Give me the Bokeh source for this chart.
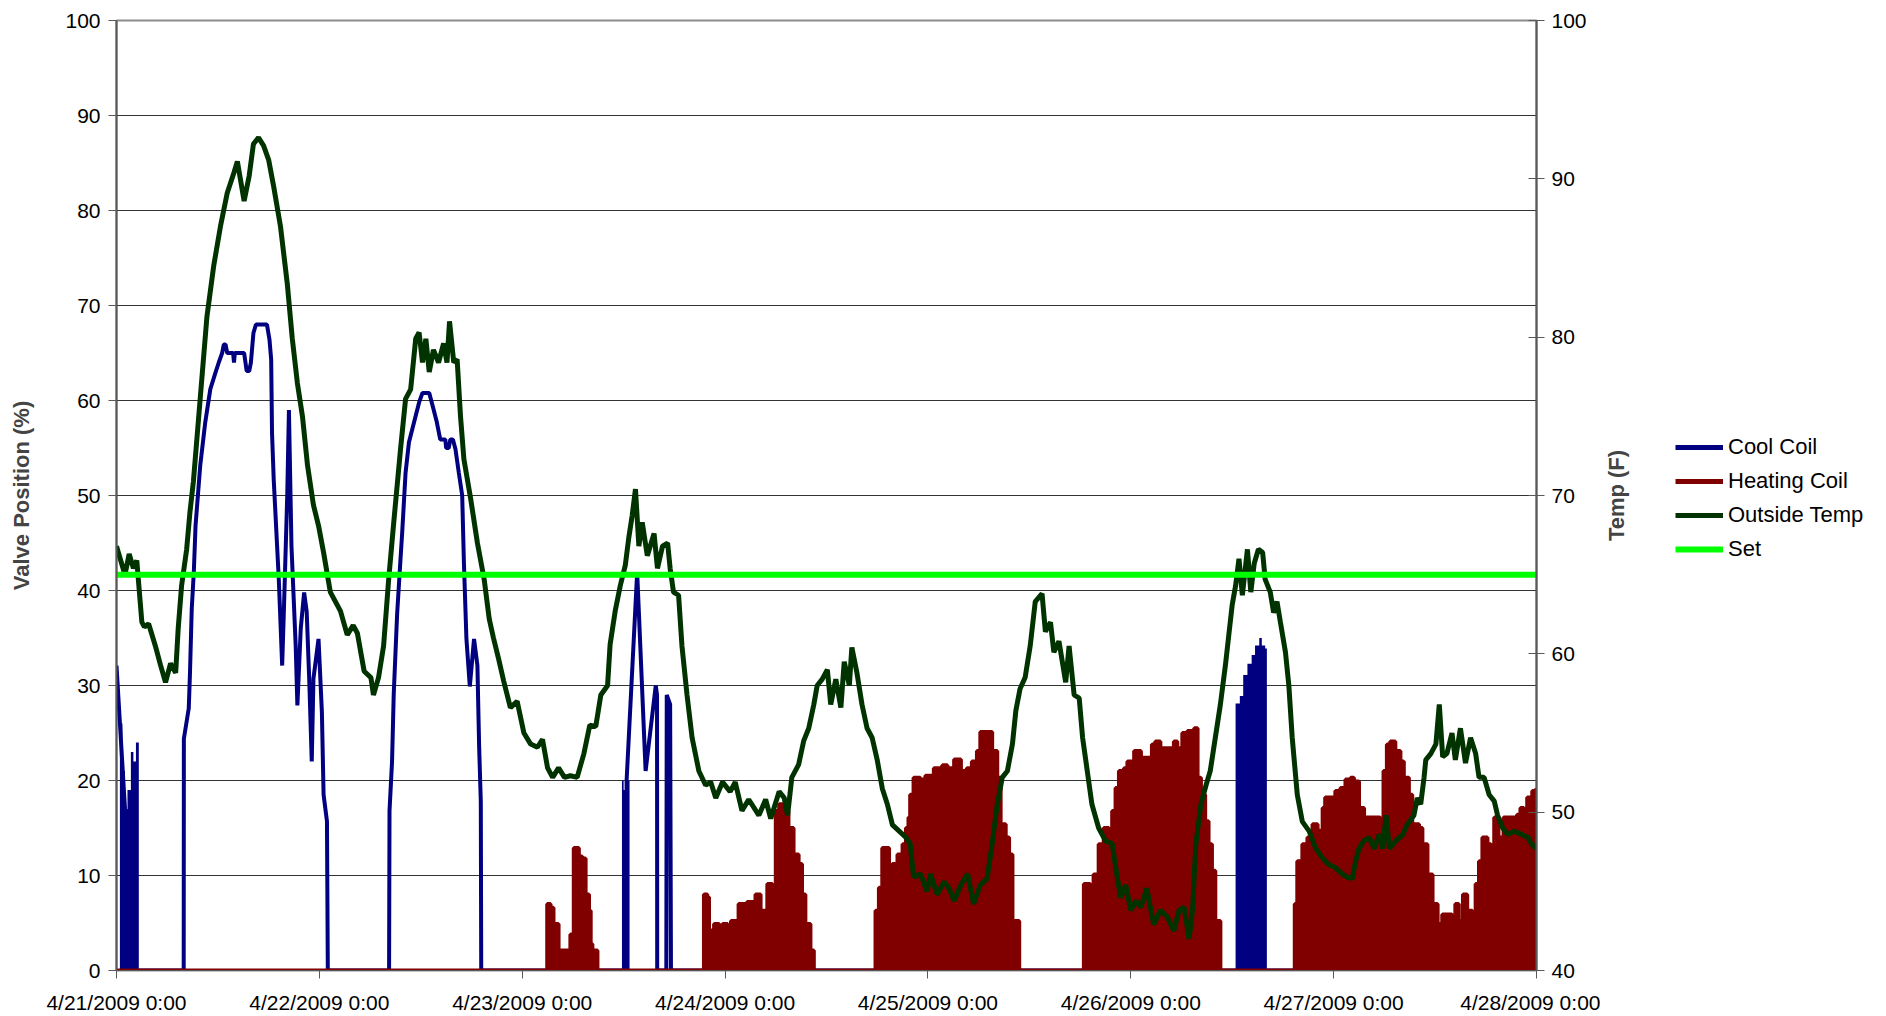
import math
from bokeh.plotting import figure
from bokeh.layouts import row
from bokeh.models import Range1d, LinearAxis, FixedTicker, Legend, LegendItem
from bokeh.embed import file_html
from bokeh.resources import INLINE

# ---------------- data (hours since 4/21/2009 0:00) ----------------
x_tick_hours = [0, 24, 48, 72, 96, 120, 144, 168]
x_tick_labels = ["4/21/2009 0:00", "4/22/2009 0:00", "4/23/2009 0:00", "4/24/2009 0:00",
                 "4/25/2009 0:00", "4/26/2009 0:00", "4/27/2009 0:00", "4/28/2009 0:00"]

series_names = ["Cool Coil", "Heating Coil", "Outside Temp", "Set"]

set_temp = 65.0

temp_hours = [0.0, 0.5, 1.0, 1.5, 2.0, 2.4, 2.8, 3.0, 3.3, 3.8, 4.6, 5.2, 5.8, 6.4, 7.0, 7.3, 7.7, 8.3, 8.7,
              9.1, 9.9, 10.7, 11.5, 12.3, 13.1, 13.9, 14.3, 15.1, 15.7, 16.2, 16.8, 17.4, 18.0, 18.6, 19.4,
              20.2, 20.8, 21.4, 22.0, 22.6, 23.3, 23.9, 24.5, 25.3, 26.5, 27.3, 28.0, 28.5, 29.3, 30.1, 30.4,
              31.0, 31.6, 32.2, 32.8, 33.6, 34.2, 34.8, 35.4, 35.8, 36.2, 36.6, 37.0, 37.5, 38.1, 38.7, 39.1,
              39.4, 39.9, 40.3, 40.7, 41.1, 41.9, 42.7, 43.5, 44.1, 44.6, 45.2, 45.8, 46.6, 47.4, 48.2, 49.0,
              49.8, 50.4, 51.0, 51.6, 52.3, 53.0, 53.7, 54.5, 55.3, 56.0, 56.7, 57.3, 58.1, 58.4, 59.0, 59.6,
              60.2, 60.6, 61.0, 61.4, 61.8, 62.2, 62.8, 63.6, 64.0, 64.6, 65.2, 65.5, 65.9, 66.5, 66.9, 67.5,
              68.1, 68.9, 69.7, 70.3, 70.9, 71.7, 72.6, 73.2, 74.0, 74.8, 76.0, 76.8, 77.4, 78.4, 79.0, 79.4,
              79.9, 80.7, 81.3, 81.9, 82.5, 82.9, 83.5, 84.1, 84.5, 85.1, 85.7, 86.1, 86.7, 87.0, 87.6, 88.2,
              88.8, 89.4, 90.0, 90.6, 91.2, 91.8, 92.6, 93.4, 93.9, 94.3, 95.1, 95.9, 96.3, 97.1, 97.9, 98.5,
              99.1, 99.9, 100.7, 101.4, 102.2, 103.0, 103.6, 104.2, 104.8, 105.4, 106.0, 106.4, 106.9, 107.5,
              108.1, 108.7, 109.5, 109.9, 110.5, 110.9, 111.5, 112.3, 112.7, 113.3, 113.9, 114.3, 114.8, 115.4,
              116.2, 117.0, 117.8, 118.4, 118.8, 119.4, 120.0, 120.6, 121.2, 121.9, 122.7, 123.5, 124.3, 125.1,
              125.7, 126.3, 126.9, 127.3, 127.7, 128.3, 128.9, 129.4, 130.0, 130.6, 131.2, 131.6, 132.0, 132.4,
              132.8, 133.2, 133.8, 134.2, 134.6, 135.1, 135.6, 135.9, 136.5, 136.9, 137.3, 137.7, 138.3, 138.7,
              139.1, 139.7, 140.3, 141.1, 141.9, 142.7, 143.4, 144.2, 145.0, 145.6, 146.2, 146.6, 147.0, 147.6,
              148.2, 148.8, 149.4, 149.8, 150.2, 150.6, 151.4, 152.2, 152.7, 153.5, 153.9, 154.3, 154.7, 154.9,
              155.5, 156.1, 156.5, 156.9, 157.4, 158.0, 158.4, 159.0, 159.6, 160.2, 160.8, 161.2, 161.8, 162.4,
              163.0, 163.4, 164.0, 164.6, 165.4, 166.2, 167.0, 167.4, 168.0]
temp_f = [66.8, 65.9, 65.0, 66.3, 65.4, 65.9, 63.3, 62.0, 61.7, 61.9, 60.5, 59.3, 58.2, 59.4, 58.8, 61.6, 64.3, 66.6, 69.0,
          70.9, 76.1, 81.3, 84.5, 87.0, 89.1, 90.4, 91.1, 88.6, 90.2, 92.2, 92.6, 92.1, 91.2, 89.5, 87.0,
          83.4, 79.9, 77.1, 75.0, 71.9, 69.4, 68.1, 66.4, 63.9, 62.7, 61.2, 61.8, 61.3, 58.9, 58.5, 57.4,
          58.5, 60.5, 64.7, 68.3, 72.9, 76.1, 76.7, 79.9, 80.3, 78.4, 79.9, 77.8, 79.2, 78.4, 79.6, 78.4,
          81.0, 78.4, 78.6, 75.0, 72.3, 69.8, 67.0, 64.7, 62.2, 61.0, 59.7, 58.3, 56.6, 57.0, 55.0, 54.3,
          54.1, 54.6, 52.8, 52.2, 52.8, 52.2, 52.3, 52.2, 53.7, 55.5, 55.4, 57.4, 58.0, 60.6, 62.7, 64.3,
          65.6, 67.3, 68.7, 70.4, 66.8, 68.3, 66.2, 67.6, 65.4, 66.8, 67.0, 65.4, 63.9, 63.7, 60.5, 57.4,
          54.7, 52.6, 51.7, 51.9, 50.9, 51.9, 51.3, 51.9, 50.1, 50.8, 49.8, 50.8, 49.6, 51.3, 50.9, 49.8,
          52.2, 53.0, 54.5, 55.3, 56.8, 58.0, 58.4, 59.0, 56.8, 58.4, 56.6, 59.5, 58.0, 60.4, 58.8, 56.8,
          55.3, 54.7, 53.3, 51.5, 50.5, 49.2, 48.8, 48.4, 48.0, 45.9, 46.1, 45.0, 46.1, 44.8, 45.6, 45.2,
          44.4, 45.4, 46.1, 44.2, 45.4, 45.8, 48.0, 50.5, 52.2, 52.6, 54.3, 56.4, 57.8, 58.5,
          60.5, 63.3, 63.8, 61.4, 62.0, 60.1, 60.8, 58.2, 60.5, 57.4, 57.2, 54.7, 52.8, 50.5,
          49.0, 48.2, 48.0, 45.9, 44.6, 45.4, 43.8, 44.4, 44.0, 45.2, 42.9, 43.8, 43.4, 42.5,
          43.8, 44.0, 42.0, 43.8, 48.0, 50.5, 51.7, 52.6, 54.7, 56.8, 59.3, 61.2, 63.1, 64.3,
          66.0, 63.7, 66.6, 63.9, 65.7, 66.6, 66.4, 64.7, 63.9, 62.6, 63.3, 62.0, 60.1, 58.0,
          54.7, 51.1, 49.4, 48.8, 47.7, 47.1, 46.7, 46.5, 46.1, 45.9, 45.8, 46.9, 47.7, 48.2,
          48.4, 47.7, 48.6, 47.7, 49.8, 47.7, 48.2, 48.6, 49.2, 49.8, 50.9, 50.5, 52.2, 53.3,
          53.7, 54.3, 56.8, 53.5, 53.7, 55.0, 53.3, 55.3, 53.1, 54.7, 53.7, 52.2, 52.2, 51.1,
          50.7, 49.8, 49.0, 48.6, 48.8, 48.6, 48.4, 48.0, 47.7]

cool_hours = [0.0, 1.0, 1.05, 7.95, 7.97, 8.55, 8.7, 8.9, 9.15, 9.35, 9.9, 10.5, 11.1, 11.7, 12.1, 12.5, 12.7,
              12.9, 13.1, 13.8, 13.9, 14.0, 15.1, 15.4, 15.7, 15.9, 16.2, 16.5, 17.8, 18.1, 18.3, 18.4, 18.6,
              19.0, 19.2, 19.6, 19.8, 20.2, 20.4, 20.7, 21.2, 21.4, 21.8, 22.2, 22.5, 22.8, 23.1, 23.3, 23.9,
              24.3, 24.5, 24.9, 25.0, 32.25, 32.3, 32.6, 32.8, 33.2, 33.6, 33.8, 34.2, 34.6, 35.0, 35.4, 35.8,
              36.2, 37.0, 37.5, 37.9, 38.3, 38.9, 39.0, 39.3, 39.5, 39.8, 40.1, 40.5, 40.9, 41.1, 41.4, 41.8,
              42.3, 42.7, 42.9, 43.1, 43.15, 60.3, 60.35, 61.6, 62.6, 63.8, 63.95, 63.97, 65.05, 65.1, 65.5,
              65.6, 168.0]
cool_pct = [32.1, 17.1, 0.0, 0.0, 24.4, 27.6, 31.5, 38.0, 42.0, 46.8, 53.1, 57.7, 61.2, 62.9, 64.0, 65.0, 65.9,
            65.9, 65.0, 65.0, 64.0, 65.0, 65.0, 63.1, 63.1, 64.0, 67.1, 68.0, 68.0, 66.4, 64.3, 56.6, 51.7,
            44.7, 41.2, 32.1, 37.8, 50.0, 59.0, 44.7, 34.2, 27.9, 36.0, 39.8, 37.8, 30.7, 22.0, 30.7, 34.9,
            27.2, 18.5, 15.7, 0.0, 0.0, 16.8, 22.0, 29.1, 37.5, 43.3, 46.1, 52.4, 55.6, 57.0, 58.4, 59.8,
            60.8, 60.8, 59.1, 57.7, 55.9, 55.9, 55.0, 55.0, 55.9, 55.9, 54.9, 52.4, 50.0, 43.0, 34.9, 29.9,
            34.9, 32.1, 23.7, 17.8, 0.0, 0.0, 20.0, 41.9, 21.0, 30.0, 29.0, 0.0, 0.0, 29.0, 28.0,
            0.0, 0.0]

# dense on/off cycling of the cool coil: upper envelope of the cycling
cool_cyc_hours = [0.4, 0.7, 1.0, 1.3, 1.7, 2.0, 2.3, 2.64,
                  59.8, 60.0, 60.3, 60.7,
                  132.4, 132.9, 133.3, 133.8, 134.3, 134.7, 135.2, 135.5, 135.9, 136.1]
cool_cyc_pct = [26.0, 21.0, 17.0, 19.0, 23.0, 22.0, 24.0, 0.0,
                20.0, 19.0, 20.0, 0.0,
                28.1, 28.9, 31.1, 32.3, 33.2, 34.2, 35.0, 34.2, 33.9, 0.0]

# heating coil cycling: upper envelope
heat_hours = [0.0, 50.96, 51.35, 51.7, 52.3, 53.7, 54.1, 54.7, 55.1, 55.5, 55.9, 56.1, 56.3, 56.5, 56.9,
              69.5, 69.9, 70.1, 70.7, 71.3, 71.7, 72.3, 72.7, 73.6, 74.6, 75.6, 76.2, 77.0, 77.6, 78.0, 78.4,
              79.0, 79.5, 80.1, 80.7, 81.1, 81.5, 82.1, 82.5,
              89.8, 90.2, 90.6, 91.2, 91.4, 91.8, 92.4, 93.0, 93.4, 93.7, 93.9, 94.3, 95.1, 95.7, 96.7, 97.7,
              98.3, 99.1, 99.9, 100.6, 101.2, 101.8, 102.2, 103.6, 104.2, 104.6, 105.2, 105.6, 106.0, 106.8,
              114.45, 115.2, 115.6, 116.2, 116.8, 117.4, 117.8, 118.2, 118.6, 119.2, 119.6, 120.4, 121.2, 122.5,
              122.9, 123.5, 125.1, 125.5, 126.1, 126.7, 127.5, 127.9, 128.3, 128.8, 129.2, 129.6, 130.0, 130.6,
              139.4, 139.7, 140.3, 140.9, 141.5, 142.1, 142.7, 143.0, 144.2, 144.8, 145.4, 146.0, 146.4, 147.0,
              147.6, 149.5, 149.9, 150.3, 150.7, 151.3, 151.9, 152.3, 152.9, 153.3, 154.1, 154.5, 155.1, 155.7,
              156.3, 156.6, 156.85, 158.0, 158.4, 158.8, 159.3, 159.8, 160.4, 160.8, 161.2, 161.6, 162.2, 162.6,
              163.0, 163.5, 164.1, 165.7, 166.1, 166.5, 166.9, 167.5, 168.0]
heat_pct = [0.0, 7.0, 6.6, 4.9, 2.1, 3.8, 12.9, 12.0, 11.8, 8.0, 6.3, 2.8, 0.0, 2.1, 0.0,
            8.0, 7.7, 4.2, 4.9, 3.1, 4.9, 4.2, 5.2, 7.0, 7.2, 8.0, 6.3, 9.1, 8.0, 16.8, 17.5,
            16.8, 15.0, 12.2, 11.2, 8.0, 4.9, 2.1, 0.0,
            6.3, 8.7, 12.9, 12.9, 9.4, 11.2, 12.2, 13.3, 15.0, 16.1, 18.5, 20.3, 20.1, 20.5, 21.3, 21.6,
            21.3, 22.2, 21.0, 21.3, 22.0, 23.1, 25.1, 23.1, 20.3, 15.4, 14.0, 12.2, 5.2, 0.0,
            9.1, 8.0, 10.1, 13.3, 15.0, 14.7, 16.8, 19.2, 21.0, 21.3, 22.0, 23.1, 22.4, 23.8,
            24.1, 23.4, 24.1, 23.4, 25.0, 25.2, 25.5, 20.3, 18.5, 15.7, 13.3, 10.5, 5.2, 0.0,
            7.0, 11.5, 13.3, 14.0, 15.4, 14.7, 17.1, 18.2, 18.9, 19.2, 20.1, 20.3, 19.9, 17.1,
            16.1, 15.0, 21.0, 23.8, 24.1, 23.1, 22.0, 20.3, 18.5, 15.4, 15.0, 13.3, 10.1, 7.0,
            4.9, 0.0, 5.9, 5.2, 7.0, 5.2, 8.0, 6.3, 5.2, 9.1, 11.5, 14.0, 13.3, 12.2,
            16.1, 14.0, 16.1, 16.4, 17.1, 16.1, 18.2, 18.9, 19.2]

# ---------------- styling ----------------
COOL = "#000080"
HEAT = "#800000"
OAT = "#003300"
SETC = "#00FF00"
AXC = "#595959"
TOPC = "#8c8c8c"
FONT = "Liberation Sans"
H = 1016
TOP, BOTTOM = 20, 43

p = figure(width=1600, height=H, output_backend="svg", toolbar_location=None,
           x_range=Range1d(0, 168), y_range=Range1d(0, 100),
           min_border_left=116, min_border_top=TOP, min_border_bottom=BOTTOM, min_border_right=64,
           background_fill_color="white", border_fill_color="white")
p.extra_y_ranges = {"temp": Range1d(40, 100)}

p.outline_line_color = TOPC
p.outline_line_width = 2
p.xgrid.grid_line_color = None
p.ygrid.grid_line_color = "#333333"
p.ygrid.grid_line_width = 1
p.ygrid.ticker = FixedTicker(ticks=list(range(0, 101, 10)))

# left axis
yl = p.yaxis[0]
yl.ticker = FixedTicker(ticks=list(range(0, 101, 10)))
yl.axis_label = "Valve Position (%)"
yl.axis_label_text_font = FONT
yl.axis_label_text_font_style = "bold"
yl.axis_label_text_font_size = "22px"
yl.axis_label_standoff = 28
yl.major_label_text_font = FONT
yl.major_label_text_font_size = "21px"
yl.major_label_text_color = "black"
yl.axis_line_color = AXC
yl.axis_line_width = 2
yl.major_tick_line_color = AXC
yl.major_tick_out = 8
yl.major_tick_in = 0
yl.minor_tick_line_color = None
yl.major_label_standoff = 8

# bottom axis
xb = p.xaxis[0]
xb.ticker = FixedTicker(ticks=x_tick_hours)
xb.major_label_overrides = {h: lab for h, lab in zip(x_tick_hours, x_tick_labels)}
xb.major_label_text_font = FONT
xb.major_label_text_font_size = "21px"
xb.major_label_text_color = "black"
xb.axis_line_color = AXC
xb.major_tick_line_color = AXC
xb.major_tick_out = 8
xb.major_tick_in = 0
xb.minor_tick_line_color = None
xb.major_label_standoff = 12

# right axis (ticks and numbers; its title is drawn on the next canvas)
yr = LinearAxis(y_range_name="temp", ticker=FixedTicker(ticks=list(range(40, 101, 10))))
yr.major_label_text_font = FONT
yr.major_label_text_font_size = "21px"
yr.major_label_text_color = "black"
yr.axis_line_color = AXC
yr.axis_line_width = 2
yr.major_tick_line_color = AXC
yr.major_tick_out = 8
yr.major_tick_in = 8
yr.minor_tick_line_color = None
yr.major_label_standoff = 7
p.add_layout(yr, "right")

# ---------------- glyphs ----------------
p.varea_step(x=cool_cyc_hours, y1=0, y2=cool_cyc_pct, step_mode="after", fill_color=COOL)
p.line(cool_hours, cool_pct, line_color=COOL, line_width=4)

p.varea_step(x=heat_hours, y1=0, y2=heat_pct, step_mode="after", fill_color=HEAT)
p.step(heat_hours, heat_pct, mode="after", line_color=HEAT, line_width=4)

p.line(temp_hours, temp_f, line_color=OAT, line_width=5, y_range_name="temp")
p.line([x_tick_hours[0], x_tick_hours[-1]], [set_temp, set_temp], line_color=SETC,
       line_width=6, y_range_name="temp")

# ---------------- right canvas: "Temp (F)" title + legend ----------------
lg = figure(width=280, height=H, output_backend="svg", toolbar_location=None,
            x_range=Range1d(0, 1), y_range=Range1d(40, 100),
            x_axis_location=None, y_axis_location="left",
            min_border_left=0, min_border_right=0, min_border_top=TOP, min_border_bottom=BOTTOM,
            outline_line_color=None,
            background_fill_color="white", border_fill_color="white")
lg.grid.visible = False
ta = lg.yaxis[0]
ta.ticker = FixedTicker(ticks=[])
ta.axis_line_color = None
ta.major_tick_line_color = None
ta.minor_tick_line_color = None
ta.major_tick_out = 0
ta.major_tick_in = 0
ta.major_label_standoff = 0
ta.axis_label = "Temp (F)"
ta.axis_label_text_font = FONT
ta.axis_label_text_font_style = "bold"
ta.axis_label_text_font_size = "22px"
ta.axis_label_standoff = 13

# legend swatches (placed outside the visible range of this canvas)
k_cool = lg.line(x=[5, 6], y=[0, 0], line_color=COOL, line_width=5)
k_heat = lg.line(x=[5, 6], y=[0, 0], line_color=HEAT, line_width=5)
k_oat = lg.line(x=[5, 6], y=[0, 0], line_color=OAT, line_width=5)
k_set = lg.line(x=[5, 6], y=[0, 0], line_color=SETC, line_width=6)

legend = Legend(items=[
    LegendItem(label=series_names[0], renderers=[k_cool]),
    LegendItem(label=series_names[1], renderers=[k_heat]),
    LegendItem(label=series_names[2], renderers=[k_oat]),
    LegendItem(label=series_names[3], renderers=[k_set]),
], location=(34, 408))
legend.label_text_font = FONT
legend.label_text_font_size = "22px"
legend.label_text_color = "black"
legend.border_line_color = None
legend.background_fill_alpha = 0
legend.glyph_width = 48
legend.glyph_height = 24
legend.label_height = 24
legend.spacing = 8
legend.label_standoff = 5
legend.padding = 0
legend.margin = 0
lg.add_layout(legend)

layout = row(p, lg)
open("out.html", "w").write(file_html(layout, INLINE))
